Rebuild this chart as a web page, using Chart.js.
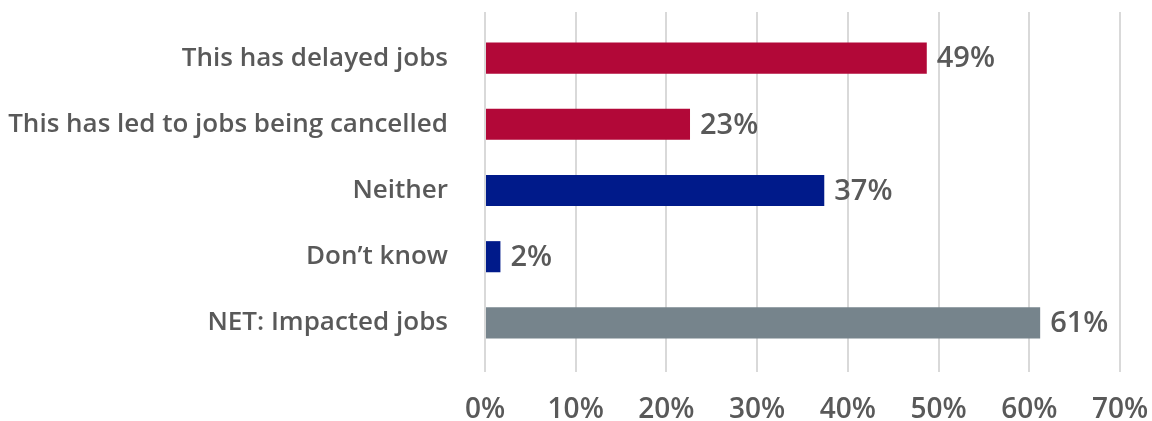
<!DOCTYPE html>
<html>
<head>
<meta charset="utf-8">
<script src="https://cdn.jsdelivr.net/npm/chart.js@4.4.1/dist/chart.umd.min.js"></script>
<style>
  html, body { margin: 0; padding: 0; background: #ffffff; }
  #wrap { width: 1152px; height: 421px; position: relative; }
</style>
</head>
<body>
<div id="wrap"><canvas id="c"></canvas></div>
<script>
const categories = [
  "This has delayed jobs",
  "This has led to jobs being cancelled",
  "Neither",
  "Don\u2019t know",
  "NET: Impacted jobs"
];
const values = [0.487, 0.226, 0.374, 0.017, 0.612];
const valueLabels = ["49%", "23%", "37%", "2%", "61%"];
const barColors = ["#B20838", "#B20838", "#001A8A", "#001A8A", "#76848C"];
const xTickMin = 0;
const xTickMax = 0.7;
const xTickStep = 0.1;

const FONT = "'Open Sans', sans-serif";
const TEXT = "#595959";
const GRID = "#D9D9D9";

const valueLabelPlugin = {
  id: "valueLabels",
  afterDatasetsDraw(chart) {
    const ctx = chart.ctx;
    const meta = chart.getDatasetMeta(0);
    ctx.save();
    ctx.font = "600 29px " + FONT;
    ctx.fillStyle = TEXT;
    ctx.textAlign = "left";
    ctx.textBaseline = "middle";
    meta.data.forEach((bar, i) => {
      ctx.fillText(valueLabels[i], bar.x + 10, bar.y + 1);
    });
    ctx.restore();
  }
};

const gridTopPlugin = {
  id: "gridTop",
  beforeDatasetsDraw(chart) {
    const ctx = chart.ctx;
    const xs = chart.scales.x;
    const top = chart.chartArea.top;
    ctx.save();
    ctx.strokeStyle = GRID;
    ctx.lineWidth = 2;
    xs.ticks.forEach(t => {
      const px = Math.round(xs.getPixelForValue(t.value));
      ctx.beginPath();
      ctx.moveTo(px, top - 13);
      ctx.lineTo(px, top);
      ctx.stroke();
    });
    ctx.restore();
  }
};

new Chart(document.getElementById("c"), {
  type: "bar",
  data: {
    labels: categories,
    datasets: [{
      data: values,
      backgroundColor: barColors,
      borderWidth: 0,
      categoryPercentage: 1.0,
      barPercentage: 0.47
    }]
  },
  options: {
    indexAxis: "y",
    responsive: true,
    maintainAspectRatio: false,
    animation: false,
    layout: { padding: { top: 25, right: 0, left: 0, bottom: 0 } },
    plugins: {
      legend: { display: false },
      tooltip: { enabled: false }
    },
    scales: {
      x: {
        min: xTickMin,
        max: xTickMax,
        border: { display: false },
        grid: { color: GRID, lineWidth: 2, drawTicks: true, tickLength: 16 },
        afterFit: s => { s.height = 65; s.paddingLeft = 0; s.paddingRight = 32; },
        ticks: {
          stepSize: xTickStep,
          padding: 21,
          color: TEXT,
          maxRotation: 0,
          font: { family: FONT, size: 28, weight: "600" },
          callback: v => Math.round(v * 100) + "%"
        }
      },
      y: {
        border: { display: false },
        grid: { display: false, drawTicks: false },
        afterFit: s => { s.width = 485; s.paddingTop = 0; s.paddingBottom = 0; },
        ticks: {
          padding: 37,
          color: TEXT,
          font: { family: FONT, size: 26, weight: "600" }
        }
      }
    }
  },
  plugins: [valueLabelPlugin, gridTopPlugin]
});
</script>
</body>
</html>
